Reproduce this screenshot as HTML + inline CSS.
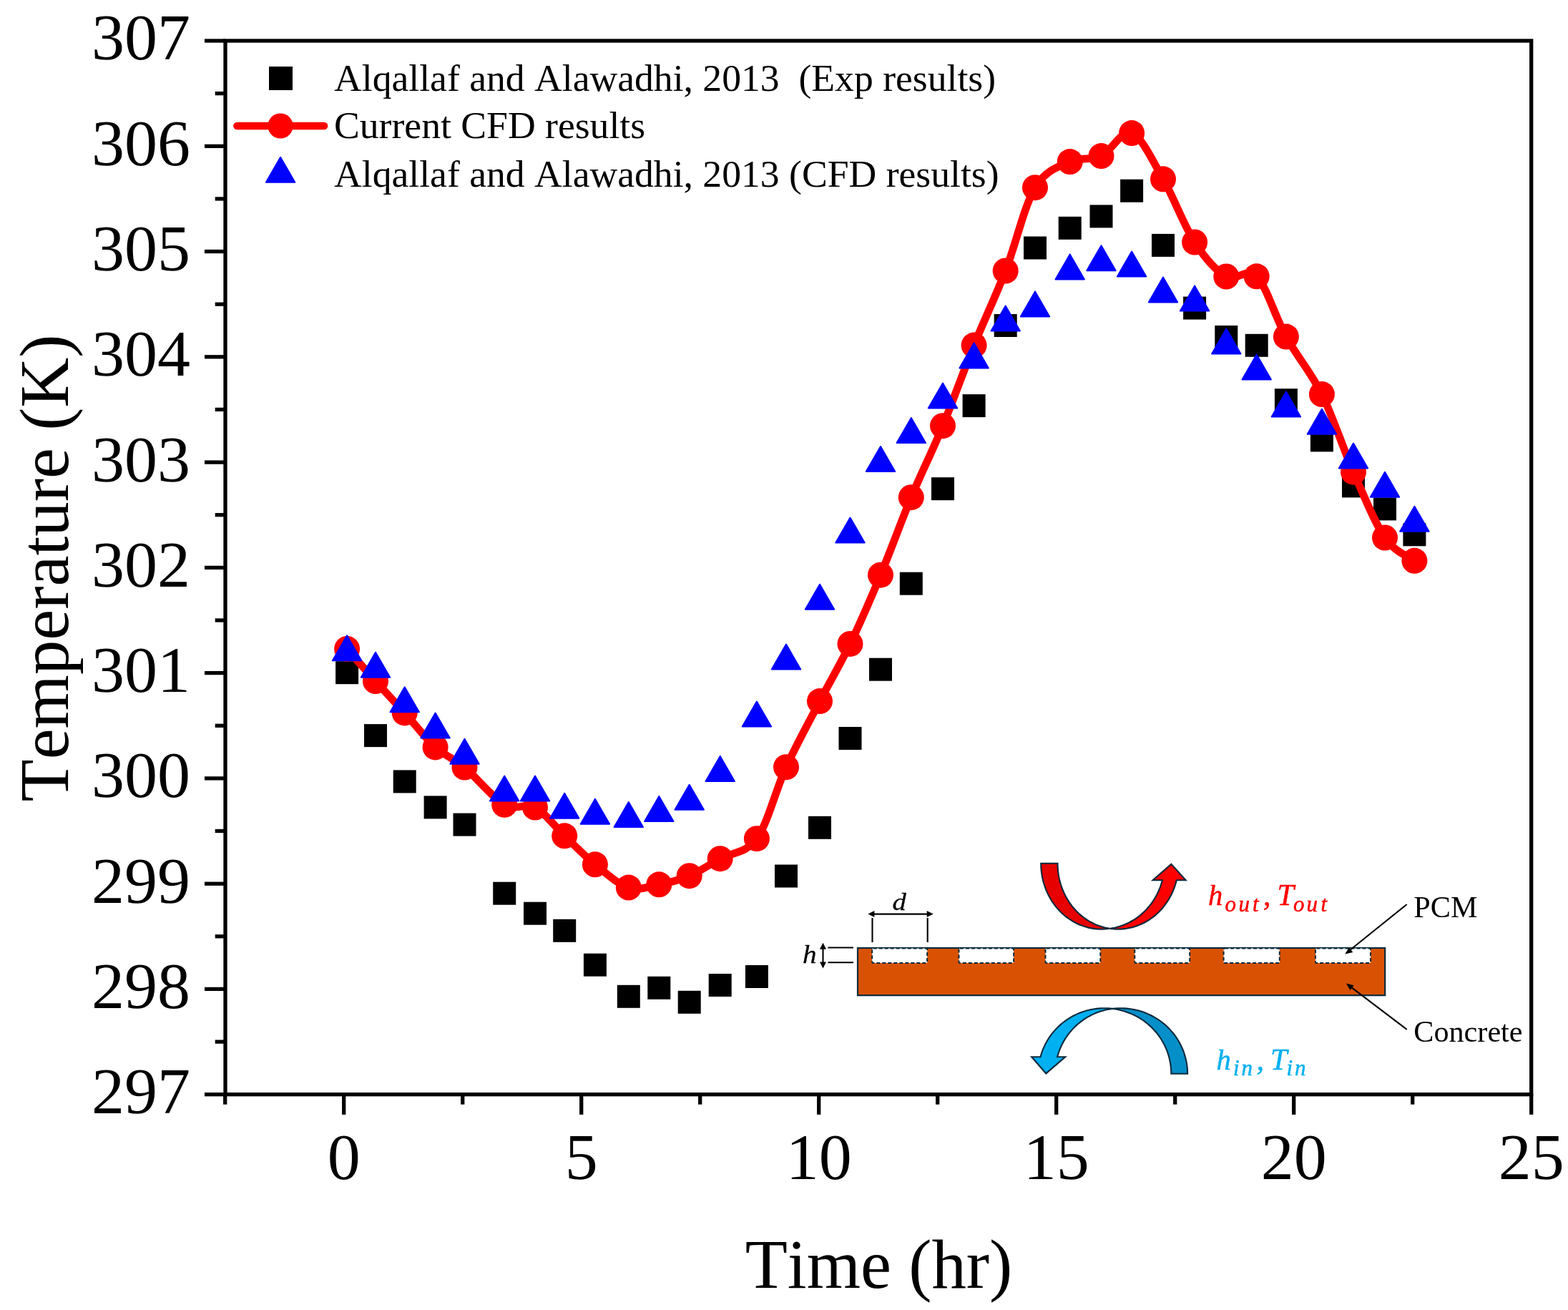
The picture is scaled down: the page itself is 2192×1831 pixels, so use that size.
<!DOCTYPE html>
<html lang="en"><head><meta charset="utf-8"><title>Temperature vs Time</title>
<style>
html,body{margin:0;padding:0;background:#fff;}
body{width:2192px;height:1831px;overflow:hidden;}
svg{display:block;}
text{font-family:"Liberation Serif","DejaVu Serif",serif;fill:#000;font-kerning:none;}
.tick{font-size:92px;}
.title{font-size:96.8px;}
.leg{font-size:53.65px;}
.lab{font-size:42.2px;}
.math{font-style:italic;}
</style></head><body>
<svg width="2192" height="1831" viewBox="0 0 2192 1831">
<rect x="0" y="0" width="2192" height="1831" fill="#ffffff"/>

<g id="exp" fill="#000">
<rect x="469.1" y="924.2" width="32" height="32"/>
<rect x="509.0" y="1012.1" width="32" height="32"/>
<rect x="549.7" y="1076.4" width="32" height="32"/>
<rect x="592.6" y="1112.4" width="32" height="32"/>
<rect x="633.5" y="1136.6" width="32" height="32"/>
<rect x="689.2" y="1232.7" width="32" height="32"/>
<rect x="732.0" y="1260.7" width="32" height="32"/>
<rect x="773.2" y="1284.8" width="32" height="32"/>
<rect x="815.9" y="1332.7" width="32" height="32"/>
<rect x="862.8" y="1376.8" width="32" height="32"/>
<rect x="905.3" y="1364.8" width="32" height="32"/>
<rect x="947.7" y="1384.8" width="32" height="32"/>
<rect x="990.7" y="1361.0" width="32" height="32"/>
<rect x="1041.9" y="1349.0" width="32" height="32"/>
<rect x="1083.0" y="1208.5" width="32" height="32"/>
<rect x="1130.0" y="1140.8" width="32" height="32"/>
<rect x="1172.5" y="1016.0" width="32" height="32"/>
<rect x="1215.0" y="919.7" width="32" height="32"/>
<rect x="1257.8" y="799.7" width="32" height="32"/>
<rect x="1302.0" y="667.2" width="32" height="32"/>
<rect x="1345.6" y="551.1" width="32" height="32"/>
<rect x="1389.7" y="439.0" width="32" height="32"/>
<rect x="1431.0" y="330.5" width="32" height="32"/>
<rect x="1479.7" y="302.8" width="32" height="32"/>
<rect x="1523.5" y="286.4" width="32" height="32"/>
<rect x="1566.1" y="250.7" width="32" height="32"/>
<rect x="1610.0" y="326.9" width="32" height="32"/>
<rect x="1654.1" y="414.6" width="32" height="32"/>
<rect x="1698.3" y="455.0" width="32" height="32"/>
<rect x="1740.7" y="466.8" width="32" height="32"/>
<rect x="1781.9" y="543.2" width="32" height="32"/>
<rect x="1831.9" y="599.4" width="32" height="32"/>
<rect x="1876.0" y="663.4" width="32" height="32"/>
<rect x="1920.0" y="695.4" width="32" height="32"/>
<rect x="1961.4" y="731.3" width="32" height="32"/>
</g>
<path d="M485.1,907.0 C491.8,914.5 511.6,937.1 525.0,952.0 C538.4,966.9 551.8,981.0 565.7,996.4 C579.6,1011.8 594.6,1031.7 608.6,1044.4 C622.6,1057.1 633.4,1059.2 649.5,1072.6 C665.6,1086.0 688.8,1115.5 705.2,1124.8 C721.6,1134.1 734.0,1121.3 748.0,1128.6 C762.0,1135.8 775.2,1155.0 789.2,1168.3 C803.2,1181.6 817.0,1196.2 831.9,1208.3 C846.8,1220.3 863.9,1235.9 878.8,1240.6 C893.7,1245.3 907.1,1239.0 921.3,1236.3 C935.4,1233.6 949.5,1230.2 963.7,1224.2 C977.9,1218.2 991.0,1208.9 1006.7,1200.2 C1022.4,1191.5 1042.5,1193.5 1057.9,1172.2 C1073.3,1150.9 1084.3,1104.2 1099.0,1072.2 C1113.7,1040.2 1131.1,1008.8 1146.0,980.1 C1160.9,951.4 1174.3,929.3 1188.5,899.9 C1202.7,870.5 1216.8,837.8 1231.0,803.7 C1245.2,769.6 1259.3,730.0 1273.8,695.2 C1288.3,660.5 1303.4,630.6 1318.0,595.2 C1332.6,559.8 1347.0,518.7 1361.6,482.6 C1376.2,446.5 1391.5,415.2 1405.7,378.5 C1419.9,341.8 1432.0,287.6 1447.0,262.2 C1462.0,236.8 1480.3,233.4 1495.7,226.1 C1511.1,218.8 1525.1,224.8 1539.5,218.1 C1553.9,211.4 1567.7,180.7 1582.1,186.1 C1596.5,191.5 1611.3,224.9 1626.0,250.3 C1640.7,275.7 1655.4,315.8 1670.1,338.5 C1684.8,361.2 1699.9,378.5 1714.3,386.5 C1728.7,394.5 1742.8,372.3 1756.7,386.3 C1770.6,400.3 1782.7,443.1 1797.9,470.6 C1813.1,498.1 1832.2,519.6 1847.9,551.1 C1863.6,582.6 1877.3,626.3 1892.0,659.7 C1906.7,693.1 1921.8,730.8 1936.0,751.5 C1950.2,772.2 1970.5,778.4 1977.4,783.8" fill="none" stroke="#ff0000" stroke-width="10.7" stroke-linejoin="round" stroke-linecap="round"/>
<g id="cfd" fill="#ff0000">
<circle cx="485.1" cy="907.0" r="18"/>
<circle cx="525.0" cy="952.0" r="18"/>
<circle cx="565.7" cy="996.4" r="18"/>
<circle cx="608.6" cy="1044.4" r="18"/>
<circle cx="649.5" cy="1072.6" r="18"/>
<circle cx="705.2" cy="1124.8" r="18"/>
<circle cx="748.0" cy="1128.6" r="18"/>
<circle cx="789.2" cy="1168.3" r="18"/>
<circle cx="831.9" cy="1208.3" r="18"/>
<circle cx="878.8" cy="1240.6" r="18"/>
<circle cx="921.3" cy="1236.3" r="18"/>
<circle cx="963.7" cy="1224.2" r="18"/>
<circle cx="1006.7" cy="1200.2" r="18"/>
<circle cx="1057.9" cy="1172.2" r="18"/>
<circle cx="1099.0" cy="1072.2" r="18"/>
<circle cx="1146.0" cy="980.1" r="18"/>
<circle cx="1188.5" cy="899.9" r="18"/>
<circle cx="1231.0" cy="803.7" r="18"/>
<circle cx="1273.8" cy="695.2" r="18"/>
<circle cx="1318.0" cy="595.2" r="18"/>
<circle cx="1361.6" cy="482.6" r="18"/>
<circle cx="1405.7" cy="378.5" r="18"/>
<circle cx="1447.0" cy="262.2" r="18"/>
<circle cx="1495.7" cy="226.1" r="18"/>
<circle cx="1539.5" cy="218.1" r="18"/>
<circle cx="1582.1" cy="186.1" r="18"/>
<circle cx="1626.0" cy="250.3" r="18"/>
<circle cx="1670.1" cy="338.5" r="18"/>
<circle cx="1714.3" cy="386.5" r="18"/>
<circle cx="1756.7" cy="386.3" r="18"/>
<circle cx="1797.9" cy="470.6" r="18"/>
<circle cx="1847.9" cy="551.1" r="18"/>
<circle cx="1892.0" cy="659.7" r="18"/>
<circle cx="1936.0" cy="751.5" r="18"/>
<circle cx="1977.4" cy="783.8" r="18"/>
</g>
<g id="ref" fill="#0000ff" stroke="#0000ff" stroke-width="2" stroke-linejoin="round">
<polygon points="485.1,888.3 505.3,923.3 464.9,923.3"/>
<polygon points="525.0,911.7 545.2,946.7 504.8,946.7"/>
<polygon points="565.7,960.3 585.9,995.3 545.5,995.3"/>
<polygon points="608.6,996.5 628.8,1031.5 588.4,1031.5"/>
<polygon points="649.5,1032.7 669.7,1067.7 629.3,1067.7"/>
<polygon points="705.2,1084.5 725.4,1119.5 685.0,1119.5"/>
<polygon points="748.0,1084.5 768.2,1119.5 727.8,1119.5"/>
<polygon points="789.2,1108.7 809.4,1143.7 769.0,1143.7"/>
<polygon points="831.9,1116.7 852.1,1151.7 811.7,1151.7"/>
<polygon points="878.8,1121.1 899.0,1156.1 858.6,1156.1"/>
<polygon points="921.3,1112.9 941.5,1147.9 901.1,1147.9"/>
<polygon points="963.7,1096.7 983.9,1131.7 943.5,1131.7"/>
<polygon points="1006.7,1056.9 1026.9,1091.9 986.5,1091.9"/>
<polygon points="1057.9,980.6 1078.1,1015.6 1037.7,1015.6"/>
<polygon points="1099.0,900.6 1119.2,935.6 1078.8,935.6"/>
<polygon points="1146.0,816.7 1166.2,851.7 1125.8,851.7"/>
<polygon points="1188.5,723.6 1208.7,758.6 1168.3,758.6"/>
<polygon points="1231.0,624.1 1251.2,659.1 1210.8,659.1"/>
<polygon points="1273.8,584.1 1294.0,619.1 1253.6,619.1"/>
<polygon points="1318.0,535.6 1338.2,570.6 1297.8,570.6"/>
<polygon points="1361.6,479.4 1381.8,514.4 1341.4,514.4"/>
<polygon points="1405.7,427.4 1425.9,462.4 1385.5,462.4"/>
<polygon points="1447.0,407.4 1467.2,442.4 1426.8,442.4"/>
<polygon points="1495.7,355.4 1515.9,390.4 1475.5,390.4"/>
<polygon points="1539.5,343.2 1559.7,378.2 1519.3,378.2"/>
<polygon points="1582.1,351.6 1602.3,386.6 1561.9,386.6"/>
<polygon points="1626.0,387.5 1646.2,422.5 1605.8,422.5"/>
<polygon points="1670.1,399.4 1690.3,434.4 1649.9,434.4"/>
<polygon points="1714.3,459.6 1734.5,494.6 1694.1,494.6"/>
<polygon points="1756.7,495.5 1776.9,530.5 1736.5,530.5"/>
<polygon points="1797.9,547.5 1818.1,582.5 1777.7,582.5"/>
<polygon points="1847.9,571.8 1868.1,606.8 1827.7,606.8"/>
<polygon points="1892.0,619.5 1912.2,654.5 1871.8,654.5"/>
<polygon points="1936.0,659.8 1956.2,694.8 1915.8,694.8"/>
<polygon points="1977.4,707.8 1997.6,742.8 1957.2,742.8"/>
</g>
<g id="axes" stroke="#000" stroke-width="5.3" fill="none" stroke-linecap="butt">
<rect x="315.0" y="57.0" width="1825.6999999999998" height="1472.7"/>
<line x1="286.0" y1="1529.7" x2="315.0" y2="1529.7"/>
<line x1="300.7" y1="1456.1" x2="315.0" y2="1456.1"/>
<line x1="286.0" y1="1382.4" x2="315.0" y2="1382.4"/>
<line x1="300.7" y1="1308.8" x2="315.0" y2="1308.8"/>
<line x1="286.0" y1="1235.2" x2="315.0" y2="1235.2"/>
<line x1="300.7" y1="1161.5" x2="315.0" y2="1161.5"/>
<line x1="286.0" y1="1087.9" x2="315.0" y2="1087.9"/>
<line x1="300.7" y1="1014.3" x2="315.0" y2="1014.3"/>
<line x1="286.0" y1="940.6" x2="315.0" y2="940.6"/>
<line x1="300.7" y1="867.0" x2="315.0" y2="867.0"/>
<line x1="286.0" y1="793.4" x2="315.0" y2="793.4"/>
<line x1="300.7" y1="719.7" x2="315.0" y2="719.7"/>
<line x1="286.0" y1="646.1" x2="315.0" y2="646.1"/>
<line x1="300.7" y1="572.4" x2="315.0" y2="572.4"/>
<line x1="286.0" y1="498.8" x2="315.0" y2="498.8"/>
<line x1="300.7" y1="425.2" x2="315.0" y2="425.2"/>
<line x1="286.0" y1="351.5" x2="315.0" y2="351.5"/>
<line x1="300.7" y1="277.9" x2="315.0" y2="277.9"/>
<line x1="286.0" y1="204.3" x2="315.0" y2="204.3"/>
<line x1="300.7" y1="130.6" x2="315.0" y2="130.6"/>
<line x1="286.0" y1="57.0" x2="315.0" y2="57.0"/>
<line x1="314.7" y1="1529.7" x2="314.7" y2="1543.7"/>
<line x1="480.7" y1="1529.7" x2="480.7" y2="1557.9"/>
<line x1="646.7" y1="1529.7" x2="646.7" y2="1543.7"/>
<line x1="812.7" y1="1529.7" x2="812.7" y2="1557.9"/>
<line x1="978.7" y1="1529.7" x2="978.7" y2="1543.7"/>
<line x1="1144.7" y1="1529.7" x2="1144.7" y2="1557.9"/>
<line x1="1310.7" y1="1529.7" x2="1310.7" y2="1543.7"/>
<line x1="1476.7" y1="1529.7" x2="1476.7" y2="1557.9"/>
<line x1="1642.7" y1="1529.7" x2="1642.7" y2="1543.7"/>
<line x1="1808.7" y1="1529.7" x2="1808.7" y2="1557.9"/>
<line x1="1974.7" y1="1529.7" x2="1974.7" y2="1543.7"/>
<line x1="2140.7" y1="1529.7" x2="2140.7" y2="1557.9"/>
</g>
<g class="tick">
<text x="266" y="1556.1" text-anchor="end">297</text>
<text x="266" y="1408.8" text-anchor="end">298</text>
<text x="266" y="1261.6" text-anchor="end">299</text>
<text x="266" y="1114.3" text-anchor="end">300</text>
<text x="266" y="967.0" text-anchor="end">301</text>
<text x="266" y="819.8" text-anchor="end">302</text>
<text x="266" y="672.5" text-anchor="end">303</text>
<text x="266" y="525.2" text-anchor="end">304</text>
<text x="266" y="377.9" text-anchor="end">305</text>
<text x="266" y="230.7" text-anchor="end">306</text>
<text x="266" y="83.4" text-anchor="end">307</text>
<text x="480.7" y="1648" text-anchor="middle">0</text>
<text x="812.7" y="1648" text-anchor="middle">5</text>
<text x="1144.7" y="1648" text-anchor="middle">10</text>
<text x="1476.7" y="1648" text-anchor="middle">15</text>
<text x="1808.7" y="1648" text-anchor="middle">20</text>
<text x="2140.7" y="1648" text-anchor="middle">25</text>
</g>
<text class="title" x="1228.5" y="1800" text-anchor="middle">Time (hr)</text>
<text class="title" transform="translate(94.5,794) rotate(-90)" text-anchor="middle">Temperature (K)</text>
<g id="legend">
<rect x="376" y="93" width="33" height="33" fill="#000"/>
<line x1="331.5" y1="176" x2="453" y2="176" stroke="#ff0000" stroke-width="10.7" stroke-linecap="round"/>
<circle cx="392" cy="176" r="17.6" fill="#ff0000"/>
<g fill="#0000ff" stroke="#0000ff" stroke-width="2" stroke-linejoin="round"><polygon points="392.1,219.8 412.3,254.8 371.9,254.8"/></g>
<text class="leg" x="467" y="126.7" xml:space="preserve" style="white-space:pre">Alqallaf and Alawadhi, 2013  (Exp results)</text>
<text class="leg" x="467" y="193.3">Current CFD results</text>
<text class="leg" x="467" y="260.7">Alqallaf and Alawadhi, 2013 (CFD results)</text>
</g>
<g id="inset">
<rect x="1199" y="1325" width="737.2" height="66.2" fill="#d95204" stroke="#0b2a3c" stroke-width="2.2"/>
<rect x="1219.2" y="1325.6" width="77.0" height="20.4" rx="1.5" fill="#fff" stroke="#0b2a3c" stroke-width="2" stroke-dasharray="5 3"/>
<rect x="1340.5" y="1325.6" width="76.6" height="20.4" rx="1.5" fill="#fff" stroke="#0b2a3c" stroke-width="2" stroke-dasharray="5 3"/>
<rect x="1461.5" y="1325.6" width="76.8" height="20.4" rx="1.5" fill="#fff" stroke="#0b2a3c" stroke-width="2" stroke-dasharray="5 3"/>
<rect x="1586.3" y="1325.6" width="76.9" height="20.4" rx="1.5" fill="#fff" stroke="#0b2a3c" stroke-width="2" stroke-dasharray="5 3"/>
<rect x="1710.6" y="1325.6" width="78.2" height="20.4" rx="1.5" fill="#fff" stroke="#0b2a3c" stroke-width="2" stroke-dasharray="5 3"/>
<rect x="1839" y="1325.6" width="77.0" height="20.4" rx="1.5" fill="#fff" stroke="#0b2a3c" stroke-width="2" stroke-dasharray="5 3"/>
<g stroke="#000" stroke-width="2.1" fill="#000">
<line x1="1219.5" y1="1283" x2="1219.5" y2="1317"/><line x1="1296.7" y1="1283" x2="1296.7" y2="1317"/>
<line x1="1218" y1="1277.6" x2="1300" y2="1277.6"/>
<polygon points="1213.4,1277.6 1222.4,1273.1 1222.4,1282.1" stroke="none"/>
<polygon points="1304.7,1277.6 1295.7,1273.1 1295.7,1282.1" stroke="none"/>
<line x1="1157.4" y1="1324.5" x2="1193" y2="1324.5"/><line x1="1157.4" y1="1345.2" x2="1193" y2="1345.2"/>
<line x1="1150.5" y1="1324" x2="1150.5" y2="1347"/>
<polygon points="1150.5,1317.8 1146,1326.8 1155,1326.8" stroke="none"/>
<polygon points="1150.5,1353.4 1146,1344.4 1155,1344.4" stroke="none"/>
<line x1="1966.7" y1="1264" x2="1884" y2="1330.5"/>
<polygon points="1880.2,1333.6 1886.0,1324.3 1891.3,1331.0" stroke="none"/>
<line x1="1966.7" y1="1438.8" x2="1886" y2="1377.6"/>
<polygon points="1881.9,1374.5 1892.6,1377.2 1887.5,1383.9" stroke="none"/>
</g>
<text class="math" transform="translate(1257.2,1272.4) scale(1.12,1)" text-anchor="middle" font-size="34.5" style="stroke:#000;stroke-width:0.3px">d</text>
<text class="math" transform="translate(1122,1346.2) scale(1.12,1)" font-size="35" style="stroke:#000;stroke-width:0.3px">h</text>
<text class="lab" x="1976.3" y="1281.9">PCM</text>
<text class="lab" x="1976.3" y="1456.2">Concrete</text>
<text class="math" font-style="italic" style="fill:#ff0000;stroke:#ff0000;stroke-width:0.5px"><tspan x="1689" y="1265" font-size="40.5">h</tspan><tspan x="1712.5 1731.5 1751" y="1273.8" font-size="31">out</tspan><tspan x="1766 1776" y="1265" font-size="42">, </tspan><tspan x="1785.5" y="1265" font-size="42">T</tspan><tspan x="1808 1826.5 1846.5" y="1273.8" font-size="31">out</tspan></text>
<text class="math" font-style="italic" style="fill:#00b0f0;stroke:#00b0f0;stroke-width:0.5px"><tspan x="1700.5" y="1495" font-size="40.5">h</tspan><tspan x="1724 1735.5" y="1503.2" font-size="31">in</tspan><tspan x="1756.5 1766" y="1495" font-size="42">, </tspan><tspan x="1776" y="1495" font-size="42">T</tspan><tspan x="1798.5 1810" y="1503.2" font-size="31">in</tspan></text>
<path d="M1455.2,1206.8 L1455.3,1210.1 L1455.4,1213.5 L1455.7,1216.8 L1456.1,1220.1 L1456.6,1223.4 L1457.2,1226.7 L1457.9,1229.9 L1458.8,1233.2 L1459.7,1236.3 L1460.7,1239.5 L1461.9,1242.6 L1463.1,1245.6 L1464.5,1248.6 L1465.9,1251.6 L1467.5,1254.5 L1469.1,1257.3 L1470.8,1260.1 L1472.7,1262.7 L1474.6,1265.4 L1476.6,1267.9 L1478.7,1270.4 L1480.8,1272.7 L1483.1,1275.0 L1485.4,1277.2 L1487.8,1279.3 L1490.3,1281.3 L1492.8,1283.2 L1495.4,1285.0 L1498.0,1286.7 L1500.7,1288.3 L1503.5,1289.8 L1506.3,1291.2 L1509.1,1292.5 L1512.0,1293.6 L1514.9,1294.6 L1517.9,1295.6 L1520.9,1296.4 L1523.9,1297.1 L1526.9,1297.6 L1529.9,1298.1 L1533.0,1298.4 L1536.1,1298.6 L1539.1,1298.7 L1542.2,1298.7 L1545.3,1298.5 L1548.3,1298.2 L1551.4,1297.8 L1551.4,1297.8 L1548.9,1297.4 L1546.3,1296.9 L1543.8,1296.3 L1541.3,1295.6 L1538.8,1294.8 L1536.4,1294.0 L1533.9,1293.1 L1531.5,1292.1 L1529.1,1291.0 L1526.8,1289.8 L1524.5,1288.6 L1522.2,1287.3 L1520.0,1285.9 L1517.8,1284.4 L1515.6,1282.9 L1513.5,1281.3 L1511.5,1279.6 L1509.4,1277.9 L1507.5,1276.1 L1505.6,1274.2 L1503.7,1272.2 L1501.9,1270.2 L1500.1,1268.2 L1498.4,1266.1 L1496.8,1263.9 L1495.2,1261.7 L1493.7,1259.4 L1492.3,1257.1 L1490.9,1254.7 L1489.6,1252.3 L1488.4,1249.9 L1487.2,1247.4 L1486.1,1244.8 L1485.1,1242.3 L1484.1,1239.7 L1483.2,1237.0 L1482.4,1234.4 L1481.7,1231.7 L1481.0,1229.0 L1480.4,1226.3 L1479.9,1223.5 L1479.5,1220.8 L1479.1,1218.0 L1478.9,1215.2 L1478.7,1212.4 L1478.5,1209.6 L1478.5,1206.8 Z" fill="#e60000" stroke="#0b2a3c" stroke-width="2.1" stroke-linejoin="miter"/>
<path d="M1551.6,1297.9 L1554.2,1298.2 L1556.8,1298.4 L1559.4,1298.6 L1562.0,1298.7 L1564.6,1298.7 L1567.2,1298.6 L1569.8,1298.4 L1572.4,1298.1 L1575.0,1297.8 L1577.6,1297.3 L1580.1,1296.8 L1582.7,1296.2 L1585.2,1295.5 L1587.7,1294.7 L1590.2,1293.8 L1592.7,1292.9 L1595.1,1291.8 L1597.5,1290.7 L1599.8,1289.5 L1602.2,1288.3 L1604.5,1286.9 L1606.7,1285.5 L1608.9,1284.0 L1611.1,1282.4 L1613.2,1280.8 L1615.3,1279.1 L1617.3,1277.3 L1619.3,1275.4 L1621.2,1273.5 L1623.1,1271.5 L1624.9,1269.5 L1626.6,1267.4 L1628.3,1265.2 L1629.9,1263.0 L1631.5,1260.7 L1633.0,1258.4 L1634.4,1256.1 L1635.8,1253.6 L1637.1,1251.2 L1638.3,1248.7 L1639.5,1246.1 L1640.5,1243.6 L1641.5,1241.0 L1642.5,1238.3 L1643.3,1235.6 L1644.1,1232.9 L1644.8,1230.2 L1657.6,1230.2 L1637.4,1207.6 L1611.6,1230.2 L1624.8,1230.2 L1624.3,1232.4 L1623.6,1234.6 L1622.9,1236.8 L1622.2,1239.0 L1621.4,1241.1 L1620.5,1243.2 L1619.6,1245.4 L1618.7,1247.4 L1617.7,1249.5 L1616.6,1251.5 L1615.5,1253.5 L1614.4,1255.5 L1613.2,1257.4 L1612.0,1259.3 L1610.7,1261.2 L1609.4,1263.0 L1608.0,1264.8 L1606.6,1266.6 L1605.1,1268.3 L1603.6,1270.0 L1602.1,1271.7 L1600.5,1273.3 L1598.9,1274.9 L1597.2,1276.4 L1595.5,1277.9 L1593.8,1279.3 L1592.1,1280.7 L1590.3,1282.0 L1588.5,1283.3 L1586.6,1284.6 L1584.7,1285.8 L1582.8,1286.9 L1580.9,1288.0 L1578.9,1289.1 L1576.9,1290.1 L1574.9,1291.0 L1572.9,1291.9 L1570.8,1292.8 L1568.8,1293.6 L1566.7,1294.3 L1564.6,1295.0 L1562.4,1295.6 L1560.3,1296.2 L1558.1,1296.7 L1556.0,1297.1 L1553.8,1297.5 L1551.6,1297.9 Z" fill="#ff0000" stroke="#0b2a3c" stroke-width="2.1" stroke-linejoin="miter"/>
<path d="M1660.1,1500.8 L1660.0,1497.5 L1659.9,1494.2 L1659.6,1490.9 L1659.1,1487.6 L1658.6,1484.4 L1657.9,1481.2 L1657.1,1477.9 L1656.2,1474.8 L1655.2,1471.6 L1654.1,1468.5 L1652.8,1465.4 L1651.5,1462.4 L1650.0,1459.5 L1648.4,1456.5 L1646.8,1453.7 L1645.0,1450.9 L1643.1,1448.2 L1641.1,1445.5 L1639.0,1442.9 L1636.8,1440.4 L1634.6,1437.9 L1632.2,1435.6 L1629.8,1433.3 L1627.3,1431.1 L1624.6,1429.0 L1622.0,1427.0 L1619.2,1425.1 L1616.4,1423.3 L1613.5,1421.6 L1610.6,1420.0 L1607.6,1418.5 L1604.5,1417.1 L1601.4,1415.8 L1598.3,1414.6 L1595.1,1413.6 L1591.8,1412.6 L1588.6,1411.8 L1585.3,1411.1 L1582.0,1410.5 L1578.6,1410.0 L1575.3,1409.6 L1571.9,1409.4 L1568.6,1409.2 L1565.2,1409.2 L1561.8,1409.3 L1558.5,1409.5 L1555.1,1409.9 L1555.1,1409.9 L1558.0,1410.3 L1560.8,1410.7 L1563.6,1411.3 L1566.4,1411.9 L1569.2,1412.7 L1572.0,1413.5 L1574.7,1414.4 L1577.4,1415.4 L1580.1,1416.4 L1582.7,1417.6 L1585.4,1418.8 L1587.9,1420.1 L1590.4,1421.4 L1592.9,1422.9 L1595.3,1424.4 L1597.7,1426.0 L1600.1,1427.7 L1602.3,1429.4 L1604.6,1431.2 L1606.7,1433.1 L1608.8,1435.0 L1610.9,1437.0 L1612.8,1439.1 L1614.7,1441.2 L1616.6,1443.3 L1618.4,1445.6 L1620.1,1447.8 L1621.7,1450.2 L1623.3,1452.5 L1624.7,1455.0 L1626.1,1457.4 L1627.5,1459.9 L1628.7,1462.5 L1629.9,1465.1 L1631.0,1467.7 L1632.0,1470.3 L1632.9,1473.0 L1633.7,1475.7 L1634.5,1478.4 L1635.1,1481.2 L1635.7,1484.0 L1636.2,1486.7 L1636.6,1489.5 L1636.9,1492.3 L1637.1,1495.2 L1637.3,1498.0 L1637.3,1500.8 Z" fill="#058fc8" stroke="#0b2a3c" stroke-width="2.1"/>
<path d="M1555.1,1409.9 L1552.3,1409.6 L1549.5,1409.4 L1546.7,1409.2 L1543.9,1409.2 L1541.1,1409.2 L1538.3,1409.4 L1535.5,1409.6 L1532.6,1409.9 L1529.9,1410.2 L1527.1,1410.7 L1524.3,1411.2 L1521.6,1411.9 L1518.8,1412.6 L1516.1,1413.4 L1513.5,1414.3 L1510.8,1415.2 L1508.2,1416.3 L1505.6,1417.4 L1503.1,1418.6 L1500.5,1419.8 L1498.1,1421.2 L1495.6,1422.6 L1493.3,1424.1 L1490.9,1425.7 L1488.6,1427.3 L1486.4,1429.0 L1484.2,1430.8 L1482.1,1432.6 L1480.0,1434.5 L1478.0,1436.5 L1476.1,1438.5 L1474.2,1440.6 L1472.3,1442.7 L1470.6,1444.9 L1468.9,1447.1 L1467.3,1449.4 L1465.7,1451.8 L1464.3,1454.1 L1462.9,1456.6 L1461.5,1459.0 L1460.3,1461.6 L1459.1,1464.1 L1458.0,1466.7 L1457.0,1469.3 L1456.1,1471.9 L1455.3,1474.6 L1454.5,1477.3 L1442.2,1477.3 L1462.3,1500.4 L1489.2,1477.3 L1478.1,1477.3 L1478.7,1475.1 L1479.4,1472.9 L1480.1,1470.7 L1480.9,1468.5 L1481.7,1466.3 L1482.6,1464.2 L1483.6,1462.1 L1484.6,1460.0 L1485.6,1458.0 L1486.7,1455.9 L1487.9,1453.9 L1489.1,1451.9 L1490.4,1450.0 L1491.7,1448.1 L1493.0,1446.2 L1494.4,1444.4 L1495.9,1442.6 L1497.4,1440.8 L1498.9,1439.1 L1500.5,1437.4 L1502.1,1435.7 L1503.7,1434.1 L1505.4,1432.6 L1507.2,1431.0 L1509.0,1429.6 L1510.8,1428.1 L1512.6,1426.8 L1514.5,1425.4 L1516.4,1424.1 L1518.4,1422.9 L1520.4,1421.7 L1522.4,1420.6 L1524.4,1419.5 L1526.5,1418.4 L1528.6,1417.4 L1530.7,1416.5 L1532.8,1415.6 L1535.0,1414.8 L1537.2,1414.0 L1539.4,1413.3 L1541.6,1412.7 L1543.8,1412.1 L1546.1,1411.5 L1548.3,1411.0 L1550.6,1410.6 L1552.9,1410.2 L1555.1,1409.9 Z" fill="#00b0f0" stroke="#0b2a3c" stroke-width="2.1"/>
</g>
</svg></body></html>
